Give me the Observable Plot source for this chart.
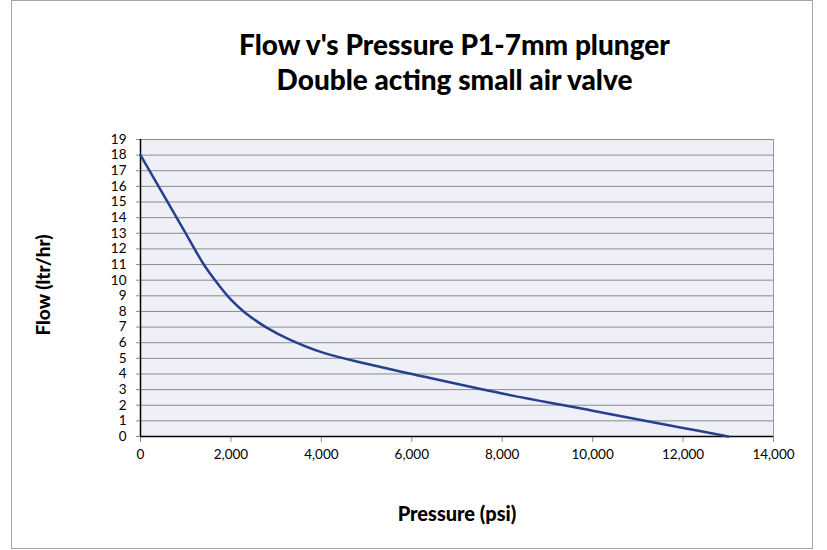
<!DOCTYPE html>
<html>
<head>
<meta charset="utf-8">
<script src="https://cdn.jsdelivr.net/npm/d3@7"></script>
<script src="https://cdn.jsdelivr.net/npm/@observablehq/plot@0.6"></script>
<style>
  html, body { margin: 0; padding: 0; background: #fff; }
  #wrap { position: relative; width: 827px; height: 550px; overflow: hidden; }
  #border { position: absolute; left: 11px; top: 0px; width: 800px; height: 547px; border: 1px solid #a6a6a6; pointer-events: none; }
  #title { height: 120px; box-sizing: border-box; padding-top: 27px; text-align: center; font-family: Lato, sans-serif; font-weight: 900; font-size: 28px; line-height: 35px; color: #000; padding-left: 82px; }
  #chart svg { display: block; }
</style>
</head>
<body>
<div id="wrap">
  <div id="border"></div>
  <div id="title">Flow v's Pressure P1-7mm plunger<br>Double acting small air valve</div>
  <div id="chart"></div>
</div>
<script>
const pressure = [0, 1000, 1400, 1700, 2000, 2300, 2800, 3300, 4000, 5000, 6000, 8000, 10000, 12000, 13000];
const flow     = [18, 13.0, 11.0, 9.8, 8.75, 7.95, 6.95, 6.2, 5.4, 4.65, 4.0, 2.75, 1.65, 0.55, 0];
const xTicks = [0, 2000, 4000, 6000, 8000, 10000, 12000, 14000];
const yTicks = d3.range(0, 20);
const xTitle = ["Pressure (psi)"];
const yTitle = ["Flow (ltr/hr)"];

const data = pressure.map((p, i) => ({p, f: flow[i]}));

const chart = Plot.plot({
  width: 827,
  height: 430,
  marginTop: 19,
  marginBottom: 114,
  marginLeft: 140,
  marginRight: 54,
  style: {fontFamily: "Lato, sans-serif", fontSize: "13px", color: "#000", background: "transparent"},
  x: {domain: [0, 14000], ticks: xTicks, tickFormat: d3.format(","), label: null},
  y: {domain: [0, 19], ticks: yTicks, label: null},
  marks: [
    Plot.frame({fill: "#EEEFF7", stroke: "#999"}),
    Plot.gridY(yTicks, {stroke: "#8c8c8c", strokeOpacity: 1, strokeWidth: 1}),
    Plot.axisX(xTicks, {tickFormat: d3.format(","), tickSize: 6, tickPadding: 7, fontSize: 13.5, stroke: "#8c8c8c", label: null}),
    Plot.axisY(yTicks, {tickSize: 4, tickPadding: 10, fontSize: 13.5, stroke: "#8c8c8c", label: null}),
    Plot.ruleY([0], {stroke: "#000", strokeWidth: 1.5}),
    Plot.ruleX([0], {stroke: "#000", strokeWidth: 1.5}),
    Plot.line(data, {x: "p", y: "f", stroke: "#263F8E", strokeWidth: 2.5, curve: "catmull-rom"}),
    Plot.text(xTitle, {frameAnchor: "bottom", dy: 84, fontSize: 20, fontWeight: 900, text: d => d}),
    Plot.text(yTitle, {frameAnchor: "left", dx: -97, dy: -3, rotate: -90, textAnchor: "middle", fontSize: 19, fontWeight: 900, text: d => d})
  ]
});
document.getElementById("chart").appendChild(chart);
</script>
</body>
</html>
